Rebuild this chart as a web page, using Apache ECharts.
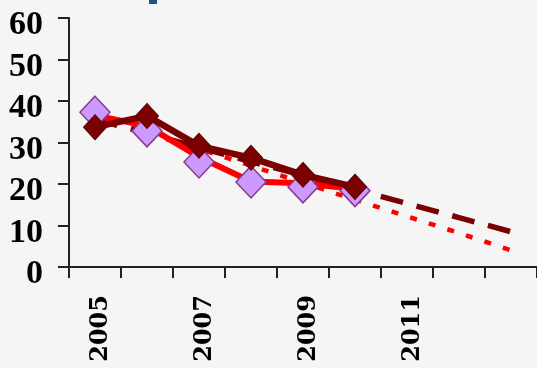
<!DOCTYPE html>
<html>
<head>
<meta charset="utf-8">
<script src="https://cdn.jsdelivr.net/npm/echarts@6/dist/echarts.min.js"></script>
<style>
html,body{margin:0;padding:0;background:#f5f5f5;}
#chart{width:537px;height:368px;}
</style>
</head>
<body>
<div id="chart"></div>
<script>
var categories = ['2005','2006','2007','2008','2009','2010','2011','2012','2013'];
var xTickLabels = ['2005','2007','2009','2011'];
var yTicks = [0, 10, 20, 30, 40, 50, 60];

var darkActual   = [33.7, 36.4, 29.2, 26.3, 22.2, 19.3, null, null, null];
var redActual    = [36.5, 34.0, 26.5, 20.6, 20.2, 18.8, null, null, null];
var purplePoints = [37.3, 32.8, 25.3, 20.5, 19.3, 18.4, null, null, null];
var darkTrend    = [35.6, 32.2, 28.8, 25.4, 22.1, 18.7, 15.3, 11.9, 8.5];
var redTrend     = [36.7, 32.5, 28.5, 24.4, 20.3, 16.2, 12.2, 8.2, 4.0];

var chart = echarts.init(document.getElementById('chart'), null, {renderer: 'canvas'});
chart.setOption({
  backgroundColor: '#f5f5f5',
  animation: false,
  graphic: [{
    type: 'rect', left: 149, top: 0,
    shape: {width: 8, height: 4},
    style: {fill: '#24508c'}
  }],
  grid: {left: 69, right: 0, top: 18, bottom: 101, containLabel: false},
  xAxis: {
    type: 'category',
    data: categories,
    boundaryGap: true,
    axisLine: {show: true, lineStyle: {color: '#222', width: 2}},
    axisTick: {show: true, interval: 0, length: 11, lineStyle: {color: '#222', width: 2}},
    axisLabel: {
      interval: function (i, v) { return xTickLabels.indexOf(v) >= 0; },
      rotate: 90,
      margin: 28,
      formatter: '{v|{value}}',
      rich: {
        v: {
          color: '#000',
          fontFamily: 'DejaVu Serif',
          fontWeight: 'bold',
          fontSize: 24,
          padding: [11, 0, 0, 0]
        }
      }
    },
    splitLine: {show: false}
  },
  yAxis: {
    type: 'value',
    min: yTicks[0], max: yTicks[yTicks.length - 1], interval: 10,
    axisLine: {show: true, lineStyle: {color: '#222', width: 2}},
    axisTick: {show: true, length: 11, lineStyle: {color: '#222', width: 2}},
    axisLabel: {
      margin: 26,
      formatter: '{v|{value}}',
      rich: {
        v: {
          color: '#000',
          fontFamily: "'Liberation Serif', 'Times New Roman', serif",
          fontWeight: 'bold',
          fontSize: 34,
          padding: [15, 0, 0, 0]
        }
      }
    },
    splitLine: {show: false}
  },
  series: [
    {
      type: 'line', data: redTrend, symbol: 'none', z: 2,
      lineStyle: {color: '#ff0000', width: 4.5, type: [7, 12.5]}
    },
    {
      type: 'line', data: darkTrend, symbol: 'none', z: 2,
      lineStyle: {color: '#7b0000', width: 5.5, type: [23, 14]}
    },
    {
      type: 'line', data: redActual, symbol: 'none', z: 3,
      lineStyle: {color: '#ff0000', width: 6}
    },
    {
      type: 'line', data: purplePoints, z: 4,
      symbol: 'diamond', symbolSize: [30, 32],
      lineStyle: {width: 0, opacity: 0},
      itemStyle: {color: '#cc99ff', borderColor: '#8a3a8a', borderWidth: 1.5}
    },
    {
      type: 'line', data: darkActual, z: 5,
      symbol: 'diamond', symbolSize: [23, 25],
      lineStyle: {color: '#7b0000', width: 6.5},
      itemStyle: {color: '#7b0000', borderColor: '#5a0000', borderWidth: 1}
    }
  ]
});
</script>
</body>
</html>
